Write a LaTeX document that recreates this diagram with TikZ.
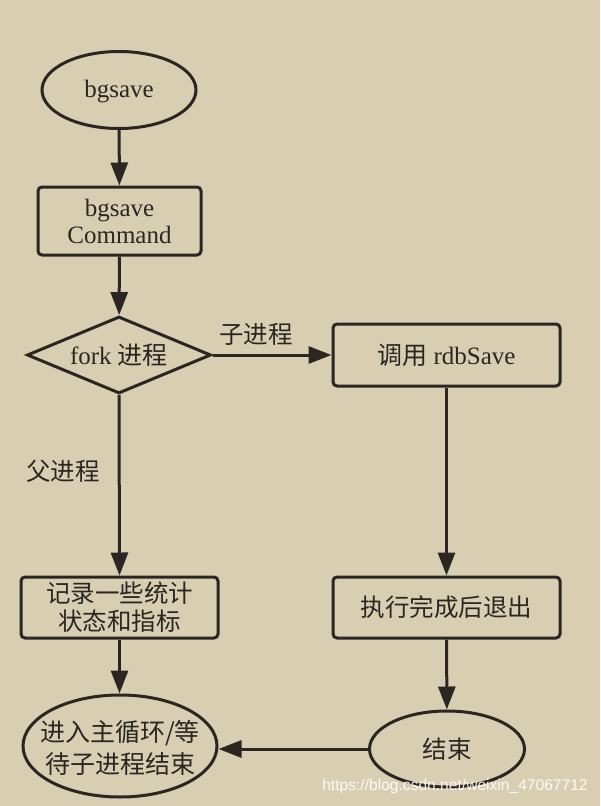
\documentclass[tikz,border=0pt]{standalone}
\usepackage{fontspec}
\setmainfont{Liberation Serif}
\newfontfamily\cjk{Noto Sans CJK SC}
\newfontfamily\wmfont{Liberation Sans}
\usetikzlibrary{shapes.geometric,arrows.meta}
\definecolor{bgc}{HTML}{D8CFB2}
\definecolor{ink}{HTML}{2B2622}
\begin{document}
\begin{tikzpicture}[x=1pt,y=-1pt,
  every node/.style={text=ink, font=\fontsize{25}{27}\selectfont, inner sep=0pt, align=center},
  base/.style={draw=ink, line width=3pt},
  oval/.style={base, ellipse},
  box/.style={base, rectangle, rounded corners=4pt},
  dia/.style={base, diamond},
  cjkt/.style={font=\cjk\fontsize{24.5}{28}\selectfont},
  lbl/.style={font=\cjk\fontsize{24.5}{28}\selectfont},
  arr/.style={draw=ink, line width=3pt, -{Triangle[length=23pt,width=17pt]}},
  wm/.style={text=white, opacity=0.9, font=\wmfont\fontsize{15.6}{17}\selectfont}
]
\fill[bgc] (0,0) rectangle (600,806);
\useasboundingbox (0,0) rectangle (600,806);

\node[oval, minimum width=154pt, minimum height=77pt] (start) at (119,90) {};
\node (starttext) at (119,92) {bgsave};
\node[box, minimum width=163pt, minimum height=68pt] (cmd) at (119.5,221) {bgsave\\Command};
\node[dia, minimum width=184pt, minimum height=77pt, aspect=2.4] (fork) at (119,355) {fork {\cjk 进程}};
\node[box, minimum width=227pt, minimum height=62pt] (rdb) at (446.5,355) {{\cjk 调用} rdbSave};
\node[box, minimum width=197pt, minimum height=61pt, cjkt] (rec) at (119.5,607.5) {记录一些统计\\状态和指标};
\node[box, minimum width=227pt, minimum height=61pt, cjkt] (exe) at (446.5,607.5) {执行完成后退出};
\node[oval, minimum width=194pt, minimum height=102pt] (main) at (120,746) {};
\node[cjkt, font=\cjk\fontsize{25}{32}\selectfont] (maintext) at (120,748) {进入主循环/等\\待子进程结束};
\node[oval, minimum width=155pt, minimum height=76pt] (end) at (447,749) {};
\node[cjkt] (endtext) at (447,749) {结束};

\node[lbl] (child) at (256,334) {子进程};
\node[lbl] (parent) at (63,471) {父进程};

\draw[arr] (start) -- (cmd);
\draw[arr] (cmd) -- (fork);
\draw[arr] (fork.east) -- (rdb.west);
\draw[arr] (fork.south) -- (rec.north);
\draw[arr] (rdb) -- (exe);
\draw[arr] (rec.south) -- (rec.south |- main.north);
\draw[arr] (exe) -- (end);
\draw[arr] (end.west) -- (main.east |- end.west);

\node[wm] (mark) at (455,786) {https://blog.csdn.net/weixin\_47067712};
\end{tikzpicture}
\end{document}
